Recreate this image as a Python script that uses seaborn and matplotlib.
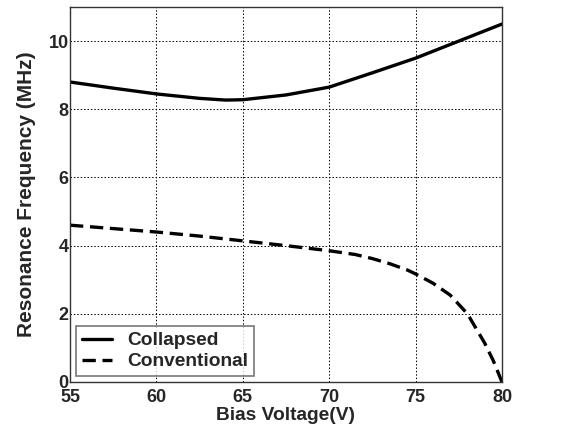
import matplotlib
matplotlib.use("Agg")
import matplotlib.pyplot as plt
import seaborn as sns
import pandas as pd
from matplotlib import font_manager

voltage_collapsed = [55, 57.5, 60, 62.5, 64, 65, 67.5, 70, 72.5, 75, 77.5, 80]
freq_collapsed = [8.80, 8.62, 8.45, 8.32, 8.27, 8.28, 8.42, 8.65, 9.07, 9.50, 10.00, 10.50]

voltage_conventional = [55, 57.5, 60, 62.5, 65, 67.5, 70, 71.5, 72.5, 73.5, 74.5, 75, 76, 77, 78, 79, 79.5, 80]
freq_conventional = [4.60, 4.50, 4.40, 4.28, 4.14, 4.00, 3.85, 3.74, 3.62, 3.47, 3.29, 3.17, 2.90, 2.55, 2.00, 1.14, 0.62, 0.0]

x_ticks = [55, 60, 65, 70, 75, 80]
y_ticks = [0, 2, 4, 6, 8, 10]

sns.set_theme(style="white")
names = {f.name for f in font_manager.fontManager.ttflist}
tick_font = "Liberation Sans Narrow" if "Liberation Sans Narrow" in names else "Liberation Sans"
plt.rcParams["font.family"] = ["Liberation Sans", "DejaVu Sans"]

fig = plt.figure(figsize=(5.76, 4.34), dpi=100)
ax = fig.add_axes([70/576, 1-382/434, 432/576, 375/434])

df1 = pd.DataFrame({"v": voltage_collapsed, "f": freq_collapsed})
df2 = pd.DataFrame({"v": voltage_conventional, "f": freq_conventional})
sns.lineplot(data=df1, x="v", y="f", ax=ax, color="black", lw=2.4, label="Collapsed")
sns.lineplot(data=df2, x="v", y="f", ax=ax, color="black", lw=2.4, label="Conventional")
ax.lines[1].set_dashes([4, 2])

ax.set_xlim(55, 80)
ax.set_ylim(0, 11)
ax.set_xticks(x_ticks)
ax.set_yticks(y_ticks)
ax.set_xticklabels([str(t) for t in x_ticks], fontfamily=tick_font, fontweight="bold", fontsize=13)
ax.set_yticklabels([str(t) for t in y_ticks], fontfamily=tick_font, fontweight="bold", fontsize=13)
ax.tick_params(axis="both", length=0, pad=1)
ax.tick_params(axis="x", pad=5)
ax.grid(True, color="black", linestyle=(0, (1.5, 2)), linewidth=0.7)
for s in ax.spines.values():
    s.set_color("#333333")
    s.set_linewidth(1.0)

ax.set_xlabel("Bias Voltage(V)", fontweight="bold", fontsize=13.8, labelpad=1)
ax.set_ylabel("Resonance Frequency (MHz)", fontweight="bold", fontsize=15, labelpad=9)

leg = ax.legend(loc="lower left", fontsize=13.8, frameon=True, fancybox=False,
                edgecolor="#555555", borderaxespad=0.3, handlelength=1.6,
                handletextpad=0.8, labelspacing=0.2, borderpad=0.3)
for t in leg.get_texts():
    t.set_fontweight("bold")
leg.get_frame().set_linewidth(1.2)

fig.savefig("out.png", dpi=100)
